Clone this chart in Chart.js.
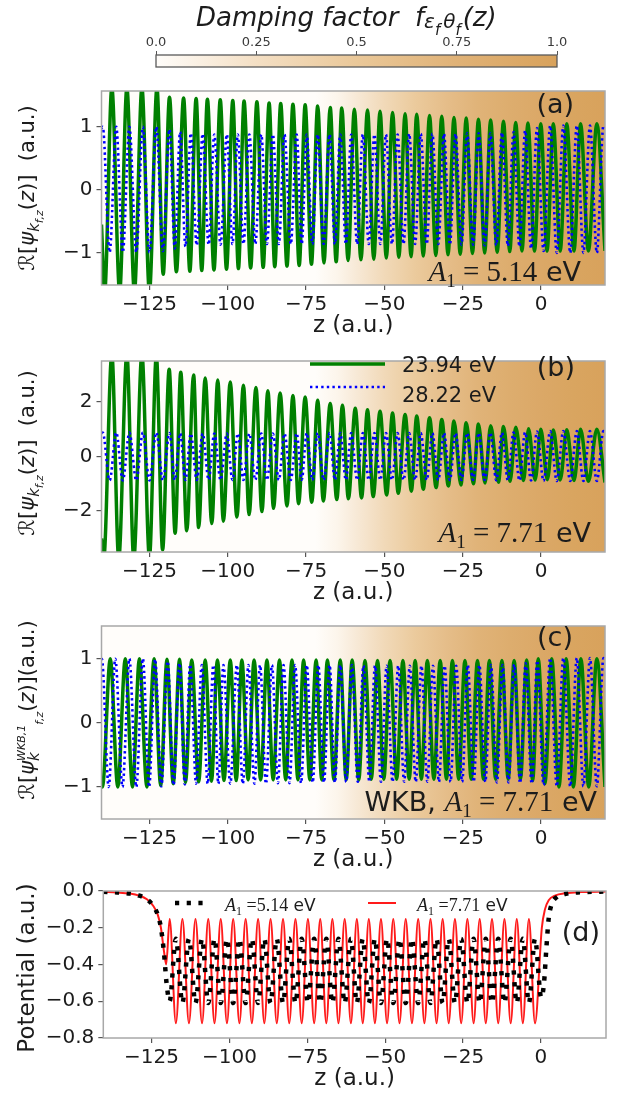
<!DOCTYPE html>
<html>
<head>
<meta charset="utf-8">
<script src="https://cdn.jsdelivr.net/npm/chart.js@4.4.1/dist/chart.umd.min.js"></script>
<style>
  html, body { margin: 0; padding: 0; background: #ffffff; }
  #page { position: relative; width: 623px; height: 1096px; overflow: hidden; }
  .slot { position: absolute; left: 0; width: 623px; }
  canvas { display: block; }
</style>
</head>
<body>
<div id="page">
  <div class="slot" style="top:0px;height:75px"><canvas id="cbar" width="623" height="75"></canvas></div>
  <div class="slot" style="top:75px;height:270px"><canvas id="pa" width="623" height="270"></canvas></div>
  <div class="slot" style="top:345px;height:265px"><canvas id="pb" width="623" height="265"></canvas></div>
  <div class="slot" style="top:610px;height:265px"><canvas id="pc" width="623" height="265"></canvas></div>
  <div class="slot" style="top:875px;height:221px"><canvas id="pd" width="623" height="221"></canvas></div>
</div>
<script>
// ---------------- data ----------------
const zTicks = [-125, -100, -75, -50, -25, 0];
const cbarTicks = [0, 0.25, 0.5, 0.75, 1.0];
const cbarLabels = ['0.0', '0.25', '0.5', '0.75', '1.0'];

// colour map of the damping factor (white -> tan)
const cmapPos = [0, 0.25, 0.5, 0.75, 1];
const cmapCol = ['#fffdfa', '#f4dfc4', '#eac899', '#e0b277', '#d8a25c'];

// damping factor along z
const dampZ = [-140.5, -72, -65, -60, -50, -40, -30, -20, -10, 0, 10, 21];
const dampF = [0, 0, 0.07, 0.15, 0.32, 0.48, 0.62, 0.74, 0.83, 0.9, 0.96, 1.0];

const energyLabels = ['23.94 eV', '28.22 eV'];

// (a) A1 = 5.14 eV : turning points of Re[psi] (z, value)
const greenA = [[-140.3,-0.55],[-139.3,-1.62],[-137.0,1.62],[-134.5,-1.62],[-132.2,1.62],[-129.8,-1.62],[-127.4,1.62],[-125.0,-1.62],[-122.6,1.62],[-120.6,-1.34],[-118.6,1.47],[-116.4,-1.30],[-114.1,1.46],[-112.1,-1.29],[-110.1,1.45],[-108.3,-1.28],[-106.5,1.44],[-104.4,-1.27],[-102.4,1.43],[-100.4,-1.26],[-98.4,1.42],[-96.6,-1.25],[-94.8,1.41],[-92.7,-1.24],[-90.7,1.40],[-88.7,-1.23],[-86.8,1.38],[-85.0,-1.22],[-83.1,1.37],[-81.1,-1.21],[-79.2,1.36],[-77.2,-1.20],[-75.3,1.35],[-73.3,-1.18],[-71.3,1.33],[-69.3,-1.16],[-67.3,1.31],[-65.4,-1.14],[-63.6,1.30],[-61.6,-1.12],[-59.6,1.28],[-57.5,-1.11],[-55.4,1.27],[-53.4,-1.10],[-51.4,1.25],[-49.4,-1.08],[-47.4,1.23],[-45.4,-1.07],[-43.4,1.21],[-41.5,-1.06],[-39.7,1.20],[-37.6,-1.05],[-35.6,1.18],[-33.6,-1.04],[-31.7,1.17],[-29.7,-1.03],[-27.8,1.15],[-25.8,-1.02],[-23.9,1.14],[-21.9,-1.01],[-20.0,1.12],[-18.0,-1.00],[-16.1,1.11],[-14.0,-0.99],[-12.0,1.09],[-10.0,-0.98],[-8.1,1.07],[-6.1,-0.97],[-4.2,1.06],[-2.1,-0.97],[-0.1,1.05],[1.9,-0.97],[3.9,1.05],[6.1,-0.97],[8.2,1.05],[10.5,-0.97],[12.6,1.05],[15.1,-0.97],[17.8,1.05],[20.4,-0.97]];
const blueA = [[-140.3,0.97],[-139.9,1.0],[-137.7,-0.99],[-135.6,1.0],[-133.5,-0.99],[-131.4,1.0],[-129.2,-0.99],[-127.1,1.0],[-125.0,-0.99],[-122.8,1.0],[-120.7,-0.97],[-118.6,0.96],[-116.9,-0.93],[-115.2,0.92],[-113.5,-0.90],[-111.8,0.90],[-109.9,-0.88],[-108.0,0.89],[-106.1,-0.87],[-104.3,0.88],[-102.3,-0.87],[-100.3,0.88],[-98.5,-0.86],[-96.8,0.88],[-95.0,-0.86],[-93.1,0.88],[-91.2,-0.86],[-89.3,0.88],[-87.5,-0.86],[-85.6,0.88],[-83.7,-0.86],[-81.9,0.88],[-79.9,-0.86],[-78.0,0.88],[-76.4,-0.86],[-74.8,0.88],[-73.0,-0.86],[-71.3,0.88],[-69.4,-0.86],[-67.5,0.88],[-65.8,-0.86],[-64.1,0.88],[-62.3,-0.86],[-60.6,0.88],[-58.7,-0.86],[-56.9,0.88],[-55.0,-0.86],[-53.2,0.88],[-51.3,-0.86],[-49.5,0.88],[-47.6,-0.86],[-45.8,0.88],[-43.9,-0.86],[-42.1,0.89],[-40.2,-0.86],[-38.4,0.89],[-36.5,-0.86],[-34.7,0.89],[-32.8,-0.86],[-31.0,0.89],[-29.1,-0.87],[-27.3,0.89],[-25.4,-0.87],[-23.6,0.90],[-21.7,-0.87],[-19.9,0.90],[-18.0,-0.88],[-16.2,0.90],[-14.3,-0.88],[-12.5,0.91],[-10.6,-0.89],[-8.8,0.92],[-6.9,-0.90],[-5.1,0.94],[-3.2,-0.93],[-1.3,0.98],[0.8,-0.97],[2.9,1.02],[5.0,-1.0],[7.1,1.02],[9.3,-1.0],[11.4,1.02],[13.5,-1.0],[15.6,1.02],[17.8,-1.0],[19.9,1.02],[20.5,0.99]];

// (b) A1 = 7.71 eV
const greenB = [[-140.3,-3.0],[-139.6,-3.75],[-137.0,3.75],[-134.8,-3.75],[-132.2,3.75],[-130.0,-3.75],[-127.4,3.75],[-125.0,-3.7],[-122.8,3.7],[-120.8,-3.42],[-118.7,3.2],[-116.8,-2.81],[-115.0,3.09],[-113.1,-2.72],[-110.9,2.99],[-109.3,-2.6],[-107.2,2.88],[-105.1,-2.46],[-103.2,2.8],[-101.4,-2.37],[-99.2,2.73],[-97.1,-2.22],[-95.0,2.61],[-93.2,-2.13],[-91.0,2.53],[-89.1,-2.02],[-87.2,2.41],[-85.4,-1.9],[-83.3,2.33],[-81.1,-1.81],[-79.2,2.24],[-77.4,-1.73],[-75.3,2.18],[-73.2,-1.68],[-71.3,2.06],[-69.5,-1.63],[-67.3,1.94],[-65.2,-1.58],[-63.4,1.88],[-61.5,-1.55],[-59.3,1.77],[-57.3,-1.52],[-55.4,1.71],[-53.6,-1.47],[-51.4,1.66],[-49.3,-1.41],[-47.4,1.59],[-45.6,-1.35],[-43.4,1.54],[-41.4,-1.27],[-39.7,1.48],[-37.6,-1.2],[-35.6,1.42],[-33.5,-1.14],[-31.7,1.36],[-29.6,-1.08],[-27.8,1.30],[-25.6,-1.04],[-23.9,1.24],[-21.6,-1.0],[-20.0,1.19],[-17.9,-0.97],[-16.1,1.13],[-13.6,-0.94],[-12.0,1.10],[-9.9,-0.91],[-8.1,1.07],[-5.6,-0.88],[-4.0,1.02],[-1.9,-0.86],[-0.1,1.0],[2.0,-0.85],[3.9,0.97],[6.1,-0.86],[8.2,0.98],[10.5,-0.88],[12.6,1.0],[15.1,-0.91],[17.8,1.0],[20.4,-0.95]];
const blueB = [[-140.3,0.86],[-139.9,0.88],[-137.7,-0.88],[-135.6,0.88],[-133.5,-0.88],[-131.4,0.88],[-129.2,-0.88],[-127.1,0.88],[-125.0,-0.88],[-122.8,0.88],[-120.7,-0.87],[-118.6,0.86],[-116.9,-0.86],[-115.2,0.85],[-113.5,-0.86],[-111.8,0.84],[-109.9,-0.86],[-108.0,0.84],[-106.1,-0.86],[-104.3,0.84],[-102.3,-0.86],[-100.3,0.84],[-98.5,-0.86],[-96.8,0.84],[-95.0,-0.86],[-93.1,0.84],[-91.2,-0.86],[-89.3,0.84],[-87.5,-0.86],[-85.6,0.84],[-83.7,-0.86],[-81.9,0.84],[-79.9,-0.86],[-78.0,0.85],[-76.4,-0.86],[-74.8,0.86],[-73.0,-0.86],[-71.3,0.86],[-69.4,-0.86],[-67.5,0.86],[-65.8,-0.86],[-64.1,0.86],[-62.3,-0.86],[-60.6,0.86],[-58.7,-0.86],[-56.9,0.86],[-55.0,-0.86],[-53.2,0.86],[-51.3,-0.86],[-49.5,0.86],[-47.6,-0.86],[-45.8,0.86],[-43.9,-0.86],[-42.1,0.86],[-40.2,-0.86],[-38.4,0.86],[-36.5,-0.86],[-34.7,0.86],[-32.8,-0.86],[-31.0,0.86],[-29.1,-0.86],[-27.3,0.86],[-25.4,-0.86],[-23.6,0.86],[-21.7,-0.86],[-19.9,0.86],[-18.0,-0.86],[-16.2,0.87],[-14.3,-0.87],[-12.5,0.87],[-10.6,-0.87],[-8.8,0.88],[-6.9,-0.88],[-5.1,0.89],[-3.2,-0.88],[-1.3,0.91],[0.8,-0.9],[2.9,0.93],[5.0,-0.9],[7.1,0.93],[9.3,-0.9],[11.4,0.93],[13.5,-0.9],[15.6,0.93],[17.8,-0.9],[19.9,0.93],[20.5,0.9]];

// (c) WKB, A1 = 7.71 eV
const greenC = [[-140.3,-0.98],[-140.0,-1.0],[-137.5,1.0],[-135.1,-1.0],[-132.7,1.0],[-130.4,-1.0],[-128.2,1.0],[-125.8,-1.0],[-123.5,1.0],[-121.4,-0.98],[-119.4,0.99],[-117.4,-0.95],[-115.4,0.99],[-113.5,-0.93],[-111.5,0.98],[-109.3,-0.92],[-107.2,0.98],[-105.2,-0.91],[-103.3,0.98],[-101.2,-0.9],[-99.2,0.98],[-97.3,-0.9],[-95.5,0.98],[-93.5,-0.89],[-91.6,0.98],[-89.5,-0.89],[-87.5,0.98],[-85.5,-0.89],[-83.5,0.98],[-81.5,-0.89],[-79.5,0.98],[-77.6,-0.89],[-75.8,0.98],[-73.8,-0.89],[-71.8,0.98],[-70.0,-0.89],[-68.2,0.98],[-66.1,-0.89],[-64.1,0.98],[-62.2,-0.89],[-60.3,0.98],[-58.2,-0.89],[-56.2,0.97],[-54.2,-0.88],[-52.2,0.97],[-50.2,-0.88],[-48.2,0.97],[-46.1,-0.88],[-44.1,0.97],[-42.1,-0.88],[-40.2,0.97],[-38.2,-0.88],[-36.3,0.97],[-34.2,-0.88],[-32.2,0.97],[-30.2,-0.88],[-28.3,0.97],[-26.3,-0.88],[-24.3,0.97],[-22.3,-0.88],[-20.3,0.97],[-18.4,-0.88],[-16.5,0.97],[-14.5,-0.88],[-12.5,0.97],[-10.5,-0.88],[-8.6,0.97],[-6.6,-0.88],[-4.6,0.98],[-2.7,-0.9],[-0.9,1.0],[1.2,-0.95],[3.4,1.0],[5.7,-1.0],[8.0,1.0],[10.3,-1.0],[12.7,1.0],[15.2,-1.0],[17.8,1.0],[20.4,-1.0]];
const blueC = [[-140.3,0.99],[-140.2,1.0],[-138.0,-1.0],[-135.9,1.0],[-133.6,-1.0],[-131.4,1.0],[-129.2,-1.0],[-127.1,1.0],[-125.1,-1.0],[-123.2,0.99],[-121.2,-0.99],[-119.2,0.96],[-117.3,-0.97],[-115.4,0.93],[-113.7,-0.96],[-112.0,0.91],[-110.1,-0.95],[-108.3,0.9],[-106.4,-0.95],[-104.6,0.9],[-103.0,-0.95],[-101.4,0.9],[-99.2,-0.95],[-97.1,0.9],[-95.2,-0.95],[-93.4,0.9],[-91.5,-0.95],[-89.7,0.9],[-87.8,-0.95],[-85.9,0.9],[-84.0,-0.94],[-82.2,0.9],[-80.3,-0.94],[-78.5,0.9],[-76.6,-0.94],[-74.8,0.9],[-72.9,-0.93],[-71.1,0.9],[-69.3,-0.93],[-67.5,0.9],[-65.8,-0.93],[-64.1,0.9],[-62.2,-0.92],[-60.4,0.9],[-58.5,-0.92],[-56.7,0.89],[-54.8,-0.92],[-53.0,0.89],[-51.1,-0.92],[-49.3,0.89],[-47.4,-0.92],[-45.6,0.89],[-43.7,-0.92],[-41.9,0.89],[-40.0,-0.92],[-38.2,0.89],[-36.3,-0.92],[-34.5,0.89],[-32.6,-0.92],[-30.8,0.89],[-28.9,-0.92],[-27.1,0.89],[-25.2,-0.92],[-23.4,0.9],[-21.5,-0.92],[-19.7,0.9],[-17.8,-0.92],[-16.0,0.9],[-14.1,-0.93],[-12.3,0.9],[-10.4,-0.93],[-8.6,0.91],[-6.7,-0.94],[-4.9,0.93],[-3.0,-0.95],[-1.2,0.97],[0.8,-0.97],[2.9,1.01],[5.0,-0.99],[7.1,1.01],[9.3,-0.99],[11.4,1.01],[13.5,-0.99],[15.6,1.01],[17.8,-0.99],[19.9,1.01],[20.5,0.98]];

// (d) lattice potential for the two modulation amplitudes
const potLow = [[-140.5,-0.004],[-136,-0.008],[-132,-0.014],[-129,-0.025],[-126.5,-0.045],[-124.5,-0.08],[-123,-0.13],[-122,-0.2],[-121,-0.34],[-120.2,-0.5],[-119.2,-0.6],[-117.2,-0.26],[-115.1,-0.61],[-113.0,-0.26],[-110.9,-0.61],[-108.8,-0.26],[-106.8,-0.61],[-104.8,-0.26],[-102.8,-0.61],[-100.8,-0.26],[-98.8,-0.61],[-96.8,-0.26],[-94.8,-0.61],[-92.8,-0.26],[-90.8,-0.61],[-88.8,-0.26],[-86.8,-0.61],[-84.8,-0.26],[-82.8,-0.61],[-80.8,-0.26],[-78.8,-0.61],[-76.8,-0.26],[-74.8,-0.61],[-72.8,-0.26],[-70.85,-0.61],[-68.9,-0.26],[-66.95,-0.61],[-65.0,-0.26],[-63.0,-0.61],[-61.0,-0.26],[-59.1,-0.61],[-57.2,-0.26],[-55.25,-0.61],[-53.3,-0.26],[-51.35,-0.61],[-49.4,-0.26],[-47.4,-0.61],[-45.4,-0.26],[-43.4,-0.61],[-41.4,-0.26],[-39.4,-0.61],[-37.4,-0.26],[-35.45,-0.61],[-33.5,-0.26],[-31.55,-0.61],[-29.6,-0.26],[-27.6,-0.61],[-25.6,-0.26],[-23.6,-0.61],[-21.6,-0.26],[-19.65,-0.61],[-17.7,-0.26],[-15.7,-0.61],[-13.7,-0.26],[-11.7,-0.61],[-9.7,-0.26],[-7.75,-0.61],[-5.8,-0.26],[-3.85,-0.61],[-1.9,-0.26],[0.1,-0.58],[1.0,-0.5],[1.8,-0.3],[2.5,-0.15],[3.5,-0.07],[5,-0.035],[8,-0.015],[13,-0.007],[20.9,-0.003]];
const potHigh = [[-140.5,-0.004],[-136,-0.008],[-132,-0.014],[-129,-0.025],[-126.5,-0.045],[-124.5,-0.08],[-123,-0.13],[-122,-0.2],[-121,-0.33],[-120.3,-0.4],[-119.2,-0.153],[-117.2,-0.72],[-115.1,-0.153],[-113.0,-0.72],[-110.9,-0.153],[-108.8,-0.72],[-106.8,-0.153],[-104.8,-0.72],[-102.8,-0.153],[-100.8,-0.72],[-98.8,-0.153],[-96.8,-0.72],[-94.8,-0.153],[-92.8,-0.72],[-90.8,-0.153],[-88.8,-0.72],[-86.8,-0.153],[-84.8,-0.72],[-82.8,-0.153],[-80.8,-0.72],[-78.8,-0.153],[-76.8,-0.72],[-74.8,-0.153],[-72.8,-0.72],[-70.85,-0.153],[-68.9,-0.72],[-66.95,-0.153],[-65.0,-0.72],[-63.0,-0.153],[-61.0,-0.72],[-59.1,-0.153],[-57.2,-0.72],[-55.25,-0.153],[-53.3,-0.72],[-51.35,-0.153],[-49.4,-0.72],[-47.4,-0.153],[-45.4,-0.72],[-43.4,-0.153],[-41.4,-0.72],[-39.4,-0.153],[-37.4,-0.72],[-35.45,-0.153],[-33.5,-0.72],[-31.55,-0.153],[-29.6,-0.72],[-27.6,-0.153],[-25.6,-0.72],[-23.6,-0.153],[-21.6,-0.72],[-19.65,-0.153],[-17.7,-0.72],[-15.7,-0.153],[-13.7,-0.72],[-11.7,-0.153],[-9.7,-0.72],[-7.75,-0.153],[-5.8,-0.72],[-3.85,-0.153],[-1.9,-0.72],[0.3,-0.2],[1.3,-0.1],[2.5,-0.05],[4.5,-0.025],[8,-0.012],[13,-0.006],[20.9,-0.003]];
const potTicks = [0, -0.2, -0.4, -0.6, -0.8];

// ---------------- helpers ----------------
const SANS = '"DejaVu Sans"';
const SERIF = '"Liberation Serif"';
const INK = '#1c1c1c';
const font = (px, style = '', fam = SANS) => `${style} ${px}px ${fam}`.trim();
const minus = s => String(s).replace('-', '\u2212');
const toXY = pairs => pairs.map(([x, y]) => ({ x, y }));

function hexRgb(h) {
  const n = parseInt(h.slice(1), 16);
  return [(n >> 16) & 255, (n >> 8) & 255, n & 255];
}
function cmap(f) {
  f = Math.max(0, Math.min(1, f));
  for (let i = 0; i < cmapPos.length - 1; i++) {
    if (f <= cmapPos[i + 1]) {
      const t = (f - cmapPos[i]) / (cmapPos[i + 1] - cmapPos[i]);
      const a = hexRgb(cmapCol[i]), b = hexRgb(cmapCol[i + 1]);
      const c = a.map((v, k) => Math.round(v + (b[k] - v) * t));
      return `rgb(${c[0]},${c[1]},${c[2]})`;
    }
  }
  return cmapCol[cmapCol.length - 1];
}

// text made of runs with their own font and baseline shift
function drawRuns(ctx, runs, x, y, align = 'left', rotate = false) {
  ctx.save();
  ctx.translate(x, y);
  if (rotate) ctx.rotate(-Math.PI / 2);
  ctx.textBaseline = 'alphabetic';
  ctx.textAlign = 'left';
  ctx.fillStyle = INK;
  const widthOf = r => {
    if (r.stack) return Math.max(...r.stack.map(widthOf));
    ctx.font = r.f; return ctx.measureText(r.t).width + (r.gap || 0);
  };
  const total = runs.reduce((s, r) => s + widthOf(r), 0);
  let cx = align === 'center' ? -total / 2 : align === 'right' ? -total : 0;
  for (const r of runs) {
    const parts = r.stack || [r];
    for (const p of parts) { ctx.font = p.f; ctx.fillText(p.t, cx, p.dy || 0); }
    cx += widthOf(r);
  }
  ctx.restore();
}

// coloured backdrop following the damping factor (or the colour bar itself)
const backdrop = {
  id: 'backdrop',
  beforeDatasetsDraw(chart, args, opts) {
    if (!opts.mode) return;
    const { ctx, chartArea: a } = chart;
    const xs = chart.scales.x;
    const g = ctx.createLinearGradient(a.left, 0, a.right, 0);
    const stops = opts.mode === 'bar'
      ? cmapPos.map(p => [xs.getPixelForValue(p), p])
      : dampZ.map((z, i) => [xs.getPixelForValue(z), dampF[i]]);
    for (const [px, f] of stops) {
      const t = Math.max(0, Math.min(1, (px - a.left) / a.width));
      g.addColorStop(t, cmap(f));
    }
    ctx.save();
    ctx.fillStyle = g;
    ctx.fillRect(a.left, a.top, a.width, a.height);
    ctx.restore();
  }
};

// axes frame, legend samples and text
const decor = {
  id: 'decor',
  afterDraw(chart, args, opts) {
    const { ctx, chartArea: a } = chart;
    ctx.save();
    ctx.strokeStyle = opts.frameColor || '#a8a8a8';
    ctx.lineWidth = opts.frameWidth || 1.5;
    ctx.strokeRect(a.left, a.top, a.width, a.height);
    ctx.restore();
    for (const s of (opts.samples || [])) {
      const ds = chart.data.datasets[s.ds];
      ctx.save();
      ctx.strokeStyle = ds.borderColor;
      ctx.lineWidth = ds.borderWidth;
      ctx.setLineDash(ds.borderDash || []);
      ctx.lineCap = ds.borderCapStyle || 'butt';
      ctx.beginPath();
      ctx.moveTo(s.x0, s.y); ctx.lineTo(s.x1, s.y);
      ctx.stroke();
      ctx.restore();
    }
    if (opts.xTitle) drawRuns(ctx, [{ t: opts.xTitle, f: font(23) }], (a.left + a.right) / 2, a.bottom + 47, 'center');
    for (const t of (opts.texts || [])) drawRuns(ctx, t.runs, t.x, t.y, t.align, t.rotate);
  }
};

function panel(id, o) {
  const canvas = document.getElementById(id);
  const H = canvas.height;
  return new Chart(canvas, {
    type: 'line',
    data: { datasets: o.datasets },
    plugins: [backdrop, decor],
    options: {
      responsive: false, animation: false, devicePixelRatio: 1,
      events: [],
      layout: { padding: { top: o.top, right: 623 - o.right, left: 0, bottom: 0 } },
      elements: { point: { radius: 0 } },
      plugins: {
        legend: { display: false }, tooltip: { enabled: false },
        backdrop: { mode: o.backdrop ? 'damp' : null },
        decor: { xTitle: 'z (a.u.)', samples: o.samples, texts: o.texts }
      },
      scales: {
        x: {
          type: 'linear', min: o.xmin, max: o.xmax,
          afterFit: s => { s.height = H - o.bottom; },
          afterBuildTicks: s => { s.ticks = zTicks.map(v => ({ value: v })); },
          grid: { drawOnChartArea: false, drawTicks: true, tickLength: 5, color: '#555', lineWidth: 1.2 },
          border: { display: false },
          ticks: { font: { family: 'DejaVu Sans', size: 20 }, color: INK, padding: 3, maxRotation: 0, autoSkip: false, callback: v => minus(v) }
        },
        y: {
          type: 'linear', min: o.ymin, max: o.ymax,
          afterFit: s => { s.width = o.left; },
          afterBuildTicks: s => { s.ticks = o.yTicks.map(v => ({ value: v })); },
          grid: { drawOnChartArea: false, drawTicks: true, tickLength: 5, color: '#555', lineWidth: 1.2 },
          border: { display: false },
          ticks: { font: { family: 'DejaVu Sans', size: 20 }, color: INK, padding: 4, callback: o.yFmt || (v => minus(v)) }
        }
      }
    }
  });
}

const greenSet = d => ({ data: toXY(d), borderColor: '#008000', borderWidth: 3.5, cubicInterpolationMode: 'monotone', clip: 0, order: 1 });
const blueSet = d => ({ data: toXY(d), borderColor: '#0000ff', borderWidth: 2.6, borderDash: [2.4, 3.2], cubicInterpolationMode: 'monotone', clip: 0, order: 0 });

// axis label for the wave function, optionally with the WKB superscript
const psiLabel = (sup, tail) => [
  { t: '\u211B[', f: font(21) },
  { t: '\u03C8', f: font(21, 'italic') },
  sup
    ? { stack: [{ t: sup, f: font(11, 'italic'), dy: -9 }, { t: 'k', f: font(15, 'italic'), dy: 5 }] }
    : { t: 'k', f: font(15, 'italic'), dy: 5 },
  { t: 'f,z', f: font(11, 'italic'), dy: 9 },
  { t: '(', f: font(21) }, { t: 'z', f: font(21, 'italic') }, { t: tail, f: font(21) }
];

const a1Runs = (val, px, lead) => [
  ...(lead ? [{ t: lead, f: font(px) }] : []),
  { t: 'A', f: font(px + 2, 'italic', SERIF) },
  { t: '1', f: font(Math.round(px * 0.7), '', SERIF), dy: Math.round(px * 0.22) },
  { t: '\u2005=\u2005' + val, f: font(px + 2, '', SERIF) },
  { t: ' eV', f: font(px) }
];

// ---------------- colour bar ----------------
new Chart(document.getElementById('cbar'), {
  type: 'line',
  data: { datasets: [] },
  plugins: [backdrop, decor],
  options: {
    responsive: false, animation: false, devicePixelRatio: 1, events: [],
    layout: { padding: { top: 0, left: 156, right: 623 - 557, bottom: 8 } },
    plugins: {
      legend: { display: false }, tooltip: { enabled: false },
      backdrop: { mode: 'bar' },
      decor: {
        frameColor: '#5a5a5a', frameWidth: 1.3,
        texts: [{
          x: 196, y: 26, align: 'left', runs: [
            { t: 'Damping factor  f', f: font(26, 'italic') },
            { t: '\u03B5', f: font(20, 'italic'), dy: 2 },
            { t: 'f', f: font(15, 'italic'), dy: 9, gap: 3 },
            { t: '\u03B8', f: font(20, 'italic'), dy: 2 },
            { t: 'f', f: font(15, 'italic'), dy: 9, gap: 2 },
            { t: '(z)', f: font(26, 'italic') }
          ]
        }]
      }
    },
    scales: {
      x: {
        type: 'linear', position: 'top', min: 0, max: 1,
        afterFit: s => { s.height = 55; },
        afterBuildTicks: s => { s.ticks = cbarTicks.map(v => ({ value: v })); },
        grid: { drawOnChartArea: false, drawTicks: true, tickLength: 4, color: '#555', lineWidth: 1 },
        border: { display: false },
        ticks: { font: { family: 'DejaVu Sans', size: 13 }, color: '#3a3a3a', padding: 1, maxRotation: 0, autoSkip: false,
                 callback: (v, i) => cbarLabels[i] }
      },
      y: { display: false, min: 0, max: 1 }
    }
  }
});

// ---------------- panel (a) ----------------
panel('pa', {
  top: 10, bottom: 210, left: 101.5, right: 605,
  xmin: -140.3, xmax: 20.4, ymin: -1.51, ymax: 1.57, yTicks: [-1, 0, 1], backdrop: true,
  datasets: [greenSet(greenA), blueSet(blueA)],
  texts: [
    { x: 34, y: 113, align: 'center', rotate: true, runs: psiLabel(null, ')]  (a.u.)') },
    { x: 574, y: 38, align: 'right', runs: [{ t: '(a)', f: font(27) }] },
    { x: 581, y: 206, align: 'right', runs: a1Runs('5.14', 27) }
  ]
});

// ---------------- panel (b) ----------------
panel('pb', {
  top: 8, bottom: 207, left: 101.5, right: 605,
  xmin: -140.3, xmax: 20.4, ymin: -3.5, ymax: 3.5, yTicks: [-2, 0, 2], backdrop: true,
  datasets: [greenSet(greenB), blueSet(blueB)],
  samples: [{ ds: 0, x0: 310, x1: 385, y: 19 }, { ds: 1, x0: 310, x1: 385, y: 42 }],
  texts: [
    { x: 34, y: 108, align: 'center', rotate: true, runs: psiLabel(null, ')]  (a.u.)') },
    { x: 402, y: 27, align: 'left', runs: [{ t: energyLabels[0], f: font(21) }] },
    { x: 402, y: 57, align: 'left', runs: [{ t: energyLabels[1], f: font(21) }] },
    { x: 575, y: 31, align: 'right', runs: [{ t: '(b)', f: font(27) }] },
    { x: 591, y: 197, align: 'right', runs: a1Runs('7.71', 27) }
  ]
});

// ---------------- panel (c) ----------------
panel('pc', {
  top: 9, bottom: 209, left: 101.5, right: 605,
  xmin: -140.3, xmax: 20.4, ymin: -1.5, ymax: 1.51, yTicks: [-1, 0, 1], backdrop: true,
  datasets: [greenSet(greenC), blueSet(blueC)],
  texts: [
    { x: 34, y: 100, align: 'center', rotate: true, runs: psiLabel('WKB,1', ')](a.u.)') },
    { x: 573, y: 36, align: 'right', runs: [{ t: '(c)', f: font(27) }] },
    { x: 597, y: 201, align: 'right', runs: a1Runs('7.71', 27, 'WKB, ') }
  ]
});

// ---------------- panel (d) ----------------
panel('pd', {
  top: 15, bottom: 163, left: 103.3, right: 606,
  xmin: -140.5, xmax: 20.9, ymin: -0.8, ymax: 0, yTicks: potTicks, backdrop: false,
  yFmt: v => minus(v.toFixed(1)),
  datasets: [
    { data: toXY(potHigh), borderColor: '#ff1a1a', borderWidth: 2, cubicInterpolationMode: 'monotone', clip: 0, order: 1 },
    { data: toXY(potLow), borderColor: '#000000', borderWidth: 4.5, borderDash: [4.2, 7.5], cubicInterpolationMode: 'monotone', clip: 0, order: 0 }
  ],
  samples: [{ ds: 1, x0: 175, x1: 203, y: 28 }, { ds: 0, x0: 368, x1: 396, y: 28 }],
  texts: [
    { x: 34, y: 93, align: 'center', rotate: true, runs: [{ t: 'Potential (a.u.)', f: font(23) }] },
    { x: 225, y: 36, align: 'left', runs: [{ t: 'A', f: font(18, 'italic', SERIF) }, { t: '1', f: font(12, '', SERIF), dy: 4 }, { t: ' =5.14', f: font(18, '', SERIF) }, { t: ' eV', f: font(17) }] },
    { x: 417, y: 36, align: 'left', runs: [{ t: 'A', f: font(18, 'italic', SERIF) }, { t: '1', f: font(12, '', SERIF), dy: 4 }, { t: ' =7.71', f: font(18, '', SERIF) }, { t: ' eV', f: font(17) }] },
    { x: 600, y: 66, align: 'right', runs: [{ t: '(d)', f: font(27) }] }
  ]
});
</script>
</body>
</html>
